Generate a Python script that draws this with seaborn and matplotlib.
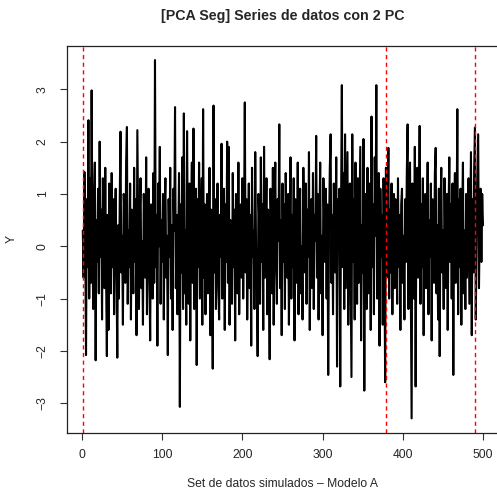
import numpy as np
import pandas as pd
import matplotlib
matplotlib.use("Agg")
import matplotlib.pyplot as plt
import seaborn as sns

title = "[PCA Seg] Series de datos con 2 PC"
xlabel = "Set de datos simulados \u2013 Modelo A"
ylabel = "Y"

values = [
    0.3, -0.6, 1.42, 0.2, -2.08, 0.9, -0.4, 2.41, -1.0, 1.3, -0.7, 2.98, 0.1, -1.2, 0.8, 1.6, -2.18, 0.5, -0.3, 1.1,
    -0.9, 2.0, -0.2, 0.7, -1.4, 1.3, 0.0, -0.8, 1.5, -0.5, -2.1, 0.6, -1.6, 1.2, 0.3, -0.9, 1.4, -0.4, 0.9, -1.3,
    0.5, 1.1, -0.6, -2.13, 0.4, -1.0, 0.8, 2.19, -0.5, 0.2, -1.5, 1.0, 0.6, -0.7, 1.6, 2.28, -1.1, 0.3, -0.4, 1.2,
    -1.4, 0.7, 0.0, -0.9, 1.5, -0.3, 0.9, -1.7, 2.22, 0.4, -1.2, 0.6, 1.3, -0.8, 0.1, -1.5, 1.0, 0.5, -0.6, 1.7,
    -1.3, 0.2, 1.1, -0.5, -1.8, 0.8, 0.3, -1.0, 1.4, -0.7, 3.56, -0.4, 0.6, -1.9, 1.2, 0.0, 1.9, -1.1, 0.5, -0.3,
    1.0, -1.4, 0.7, 1.3, -0.6, 0.2, -2.08, 0.9, -0.2, 1.5, -1.0, 0.4, -1.6, 1.1, 0.3, 2.66, -0.8, 0.6, -1.3, 0.1,
    1.4, -3.07, 0.8, -0.5, 1.7, -1.2, 2.54, -0.9, 0.3, -1.5, 2.2, 0.0, -1.1, 1.2, -1.8, 0.6, 1.6, -0.7, 2.25, -1.2,
    0.5, 1.1, -2.27, 0.9, -0.4, 1.6, -1.0, 0.2, 1.3, -1.5, 2.62, -0.6, 0.8, -1.3, 0.4, 1.0, -0.9, 0.1, 1.5, -1.7,
    0.7, 0.3, -2.34, 2.69, -0.5, 0.9, -1.2, 0.2, 1.2, -0.8, -1.4, 0.6, -0.2, 1.96, -1.0, 0.4, 1.1, -1.6, 0.8, -0.3,
    2.0, -0.7, 1.9, -1.5, 0.5, 0.0, -1.1, 1.4, -0.4, 0.7, -1.8, 1.0, 0.3, -0.9, 1.6, -1.3, 0.2, 0.8, -0.6, 1.3,
    -1.0, 0.4, 2.75, -0.5, 0.9, -1.4, 0.1, 1.2, -0.8, 0.6, -1.9, 1.5, -0.2, 0.3, -1.2, 1.8, 0.0, -0.7, -2.1, 1.0,
    0.5, -1.1, 1.7, -0.3, 0.8, -1.6, 1.9, -0.6, 0.2, 1.3, -1.3, 0.7, -0.2, -2.16, 1.1, 0.4, -0.9, 1.5, -1.5, 0.6,
    1.6, -0.4, -1.1, 0.9, 0.1, 2.33, -0.8, 0.5, -1.7, 1.2, -0.3, 0.8, -1.2, 1.4, 0.0, -0.6, 1.0, -1.5, 0.3, 1.7,
    -1.0, 0.6, -0.4, 1.3, -1.8, 0.9, 0.2, -0.7, 1.6, -1.3, 0.5, 1.1, -0.9, 0.0, -1.4, 1.5, 0.4, -0.5, 1.2, -1.1,
    0.7, -0.2, 1.8, -1.6, 0.3, 0.9, -0.8, 1.4, -1.2, 0.6, 0.1, 2.11, -0.6, 1.0, -1.4, 0.4, 1.6, -0.9, 0.2, -1.7,
    1.3, 0.5, -0.3, 1.1, -1.0, 0.8, -2.46, 0.3, 1.5, 2.14, -0.7, 0.6, -1.3, 1.2, 0.0, -0.5, 1.7, -2.3, 0.9, 0.4,
    1.1, -2.68, 0.7, 3.08, -0.4, 1.4, -1.2, 2.14, -0.8, 0.5, 1.8, -1.5, 0.2, 1.2, -0.6, -2.5, 2.14, -0.3, 0.9, -1.4,
    1.6, 0.1, -1.1, 1.3, -0.7, 0.6, 1.9, -1.8, 0.4, -0.5, 2.05, -2.76, 1.0, 0.3, -1.2, 1.5, -0.9, 0.7, 1.2, -1.6,
    2.48, -0.4, 0.8, -1.3, 1.7, 0.2, 3.08, -1.0, 0.5, 1.4, -1.9, 1.1, -0.2, 0.6, -1.5, 1.3, 0.0, -2.6, 1.5, -0.6,
    0.3, 1.88, -1.0, 0.7, -0.5, 1.2, -1.3, 0.4, 1.0, -0.8, 0.9, 0.1, -1.1, 1.3, -0.4, 0.6, -1.6, 0.8, 1.1, -0.7,
    0.2, -1.4, 0.9, -0.3, 1.4, 2.33, -1.2, 0.5, 1.6, -0.9, -3.29, 1.2, 0.4, -1.0, 1.9, -2.68, 0.7, 1.5, -0.6, 0.3,
    2.3, -1.1, 0.8, -0.4, 1.3, -1.7, 0.6, 1.0, -0.8, 0.2, 1.6, -1.3, 0.5, -0.2, 1.2, -1.8, 0.9, 0.0, -0.7, 1.4,
    1.88, -0.9, 0.4, -1.4, 1.1, -2.1, 0.7, 1.5, -0.5, 0.3, -1.2, 1.3, 0.1, -0.8, 1.0, -1.6, 0.6, 1.7, -0.3, 0.8,
    -1.0, 1.2, -2.46, 0.5, 1.4, -0.7, 0.2, 2.62, -1.3, 0.9, -0.4, 1.1, -1.5, 0.6, 1.6, -0.9, 0.3, -1.2, 1.0, -0.6,
    0.7, 1.3, -1.1, 0.4, 1.8, -1.7, 0.9, -0.5, 1.5, 2.27, -1.4, 0.2, 1.2, 2.14, -0.8, 0.5, 1.1, -0.3, 1.0, 0.4,
]
index = list(range(1, len(values) + 1))
breakpoints = [1, 379, 490]
xticks = [0, 100, 200, 300, 400, 500]
yticks = [-3, -2, -1, 0, 1, 2, 3]

df = pd.DataFrame({"idx": index, "y": values})

sns.set_style("white")
plt.rcParams["font.family"] = ["Liberation Sans", "DejaVu Sans"]

W, H = 497, 499
fig = plt.figure(figsize=(W / 100, H / 100), dpi=100)
left, right, top, bottom = 66.8, 499.0, 45.7, 432.7
ax = fig.add_axes([left / W, 1 - bottom / H, (right - left) / W, (bottom - top) / H])

sns.lineplot(data=df, x="idx", y="y", ax=ax, color="black", linewidth=1.5,
             estimator=None, sort=False)
for b in breakpoints:
    ax.axvline(b, color="red", linestyle=(0, (3, 2.5)), linewidth=1.0)

xr = max(index) - min(index)
ax.set_xlim(min(index) - 0.04 * xr, max(index) + 0.04 * xr)
yr = max(values) - min(values)
ax.set_ylim(min(values) - 0.04 * yr, max(values) + 0.04 * yr)

ax.set_xticks(xticks)
ax.set_yticks(yticks)
ax.set_yticklabels([str(t).replace("-", "\u2212") for t in yticks], rotation=90, va="center")
ax.tick_params(axis="both", direction="out", length=5, width=0.8, labelsize=8.7,
               color="#333333", bottom=True, left=True)
ax.tick_params(axis="x", pad=7)
ax.tick_params(axis="y", pad=8)
for s in ax.spines.values():
    s.set_color("#222222")
    s.set_linewidth(0.9)

ax.set_xlabel(xlabel, fontsize=8.7, labelpad=12)
ax.set_ylabel(ylabel, fontsize=8.7, labelpad=14)
fig.text((left + right) / 2 / W, 1 - 16 / H, title, ha="center", va="center",
         fontsize=10.3, fontweight="bold")

fig.savefig("out.png", dpi=100)
